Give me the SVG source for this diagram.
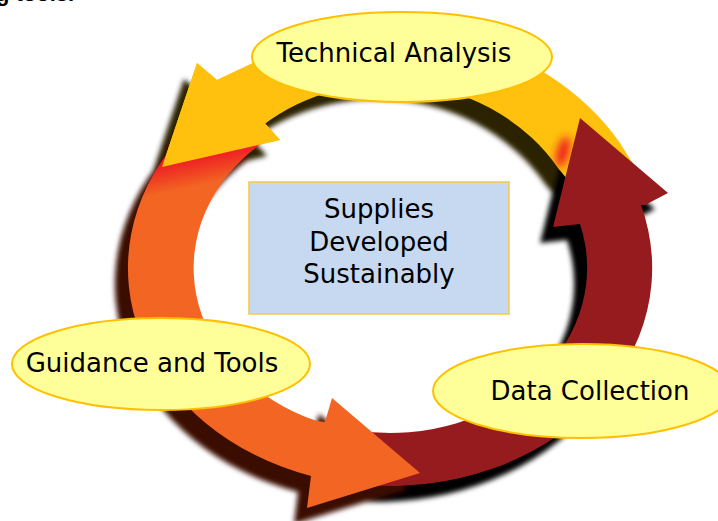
<svg xmlns="http://www.w3.org/2000/svg" xmlns:xlink="http://www.w3.org/1999/xlink" width="718" height="521" viewBox="0 0 718 521">
  <style>
    .label { font-family: "DejaVu Sans", Verdana, sans-serif; font-size: 26px; fill: #000; text-anchor: middle; }
    .bubble { fill: #FFFF99; stroke: #FFC000; stroke-width: 2; }
    .box { fill: #C6D9F1; stroke: #F7C843; stroke-width: 1.5; }
  </style>
  <defs>
    <filter id="blur" x="-20%" y="-20%" width="140%" height="140%">
      <feGaussianBlur stdDeviation="2.5"/>
    </filter>
    <filter id="glow" x="-100%" y="-100%" width="300%" height="300%">
      <feGaussianBlur stdDeviation="4"/>
    </filter>
    <linearGradient id="og" gradientUnits="userSpaceOnUse" x1="200" y1="156" x2="206" y2="184">
      <stop offset="0" stop-color="#EE1D23"/>
      <stop offset="0.3" stop-color="#EF3223"/>
      <stop offset="1" stop-color="#F26522"/>
    </linearGradient>
    <path id="yellowArrow" d="M162,167 L197,63 L217,80 L253,63 A270,238 0 0,1 620,143 L640,175 L572,185 L558,168 A200,185 0 0,0 262,126 L262,120 L280,140 Z"/>
    <path id="yellowHead" d="M162,167 L197,63 L217,80 L253,63 L262,120 L280,140 Z"/>
    <path id="orangeArrow" d="M178,128 L178,140 A262,218 0 0,0 311,476 L307,508 L420,473 L332,398 L325,422 L317,421 A197,165 0 0,1 262,143 L250,120 Z"/>
    <path id="redArrow" d="M580,224 L553,227 L580,118 L668,193 L645,205 L641,205 A262,218 0 0,1 365,485 L360,431 A197,165 0 0,0 580,224 Z"/>
    <clipPath id="yclip">
      <use xlink:href="#yellowArrow"/>
    </clipPath>
  </defs>

  <rect x="0" y="0" width="718" height="521" fill="#FFFFFF"/>

  <text x="-4" y="1" font-family="Liberation Sans, Arial, sans-serif" font-size="22" font-weight="bold" fill="#000">g tools.</text>

  <g id="connectors">
    <g id="shadows" transform="translate(-13,16)" filter="url(#blur)">
      <use xlink:href="#yellowArrow" fill="#2A2005"/>
      <use xlink:href="#redArrow" fill="#050000"/>
      <use xlink:href="#orangeArrow" fill="#3A0C03"/>
    </g>
    <use id="arrow-yellow" xlink:href="#yellowArrow" fill="#FFC10E"/>
    <g clip-path="url(#yclip)">
      <ellipse cx="563" cy="152" rx="6" ry="16" fill="#EE1D23" transform="rotate(15 563 152)" filter="url(#glow)"/>
    </g>
    <use id="arrow-red" xlink:href="#redArrow" fill="#951B1E"/>
    <use id="arrow-orange" xlink:href="#orangeArrow" fill="url(#og)"/>
    <use id="arrow-yellow-head" xlink:href="#yellowHead" fill="#FFC10E"/>
  </g>

  <g id="node-center">
    <rect class="box" x="249" y="182" width="260" height="132"/>
    <text class="label" x="379" y="218">Supplies</text>
    <text class="label" x="379" y="251">Developed</text>
    <text class="label" x="379" y="283">Sustainably</text>
  </g>

  <g id="node-technical-analysis">
    <ellipse class="bubble" cx="402" cy="57" rx="150" ry="45"/>
    <text class="label" x="394" y="62">Technical Analysis</text>
  </g>

  <g id="node-guidance-tools">
    <ellipse class="bubble" cx="161" cy="364" rx="149" ry="46"/>
    <text class="label" x="152" y="372">Guidance and Tools</text>
  </g>

  <g id="node-data-collection">
    <ellipse class="bubble" cx="582" cy="391" rx="149" ry="47"/>
    <text class="label" x="590" y="400">Data Collection</text>
  </g>
</svg>
